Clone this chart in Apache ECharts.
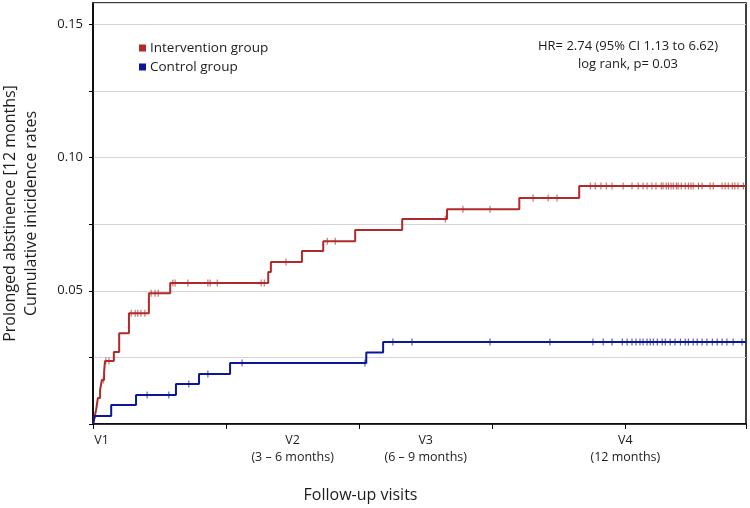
<!DOCTYPE html>
<html>
<head>
<meta charset="utf-8">
<script src="https://cdn.jsdelivr.net/npm/echarts@6/dist/echarts.min.js"></script>
<style>html,body{margin:0;padding:0;background:#fff}#c{width:750px;height:508px}</style>
</head>
<body>
<div id="c"></div>
<script>
// Step times (months) and cumulative incidence after each step
const interventionTimes = [0, 0.045, 0.07, 0.09, 0.11, 0.16, 0.20, 0.25, 0.27, 0.47, 0.59, 0.81, 1.26, 1.74, 3.95, 4.01, 4.71, 5.19, 5.91, 6.97, 7.98, 9.61, 10.96, 14.72];
const interventionRates = [0, 0.0034, 0.0053, 0.0075, 0.0098, 0.0128, 0.0165, 0.0195, 0.0236, 0.027, 0.0341, 0.0416, 0.0491, 0.0529, 0.057, 0.0608, 0.0649, 0.0686, 0.0728, 0.0769, 0.0806, 0.0848, 0.0893, 0.0893];
const controlTimes = [0, 0.04, 0.41, 0.97, 1.87, 2.39, 3.09, 6.16, 6.54, 14.72];
const controlRates = [0, 0.003, 0.0071, 0.0109, 0.015, 0.0188, 0.0229, 0.0268, 0.0308, 0.0308];
// Censoring times (months)
const interventionCensored = [0.23, 0.29, 0.36, 0.86, 0.95, 1.01, 1.08, 1.17, 1.31, 1.40, 1.47, 1.80, 1.85, 2.14, 2.59, 2.64, 2.80, 3.79, 3.86, 4.35, 5.28, 5.46, 7.94, 8.34, 8.95, 9.92, 10.26, 10.46,
  11.21, 11.32, 11.45, 11.57, 11.70, 11.95, 12.15, 12.29, 12.40, 12.49, 12.60, 12.69, 12.81, 12.85, 12.92, 12.97, 13.03, 13.08, 13.15, 13.19, 13.26, 13.35, 13.42, 13.48, 13.53, 13.65, 13.73, 13.91, 13.98, 14.18, 14.25, 14.32, 14.41, 14.47, 14.54, 14.66];
const controlCensored = [1.22, 1.71, 2.16, 2.59, 3.36, 6.13, 6.76, 7.19, 8.95, 10.30,
  11.27, 11.50, 11.70, 11.93, 12.04, 12.15, 12.24, 12.33, 12.40, 12.49, 12.56, 12.63, 12.72, 12.83, 12.90, 13.01, 13.12, 13.24, 13.35, 13.42, 13.53, 13.62, 13.73, 13.84, 13.96, 14.07, 14.18, 14.29, 14.43, 14.63];
// Axis labels
const visitLabels = {0: 'V1', 4.5: 'V2\n(3 – 6 months)', 7.5: 'V3\n(6 – 9 months)', 12: 'V4\n(12 months)'};
const seriesNames = ['Intervention group', 'Control group'];
const colors = ['#b12a2a', '#0b1796'];

function levelAt(times, rates, t) {
  let v = 0;
  for (let i = 0; i < times.length; i++) { if (times[i] <= t) v = rates[i]; }
  return v;
}
const pairs = (a, b) => a.map((x, i) => [x, b[i]]);
const cens = (c, times, rates) => c.map(t => [t, levelAt(times, rates, t)]);

const FONT = 'Open Sans';
const TXT = '#1c1c1c';
const chart = echarts.init(document.getElementById('c'), null, {renderer: 'canvas'});
chart.setOption({
  animation: false,
  textStyle: {fontFamily: FONT},
  grid: {left: 93, right: 4, top: 3, bottom: 84, show: true, borderColor: '#000', borderWidth: 1.5, backgroundColor: 'transparent', outerBoundsMode: 'none', containLabel: false},
  legend: {
    data: seriesNames, orient: 'vertical', left: 134, top: 36, icon: 'rect', itemWidth: 7, itemHeight: 7, itemGap: 5,
    textStyle: {fontFamily: FONT, fontSize: 13.5, color: TXT, padding: [0, 0, 0, -1]}
  },
  xAxis: [{
    type: 'value', min: 0, max: 14.72, interval: 3,
    axisLine: {lineStyle: {color: '#000', width: 1.5}},
    axisTick: {show: true, inside: false, length: 5, lineStyle: {color: '#000'}},
    axisLabel: {show: false}, splitLine: {show: false},
    name: 'Follow-up visits', nameLocation: 'middle', nameGap: 63,
    nameTextStyle: {fontFamily: FONT, fontSize: 16, color: TXT, padding: [0, 118, 0, 0]}
  }, {
    type: 'value', min: 0, max: 14.72, interval: 1.5, position: 'bottom',
    axisLine: {show: false}, axisTick: {show: false}, splitLine: {show: false},
    axisLabel: {
      show: true, margin: 8, fontSize: 12.5, color: TXT, lineHeight: 17, showMaxLabel: false,
      formatter: v => {
        const k = Object.keys(visitLabels).find(key => Math.abs(+key - v) < 1e-6);
        if (k === undefined) return '';
        return +k === 0 ? '{p|' + visitLabels[k] + '}' : visitLabels[k];
      },
      rich: {p: {padding: [0, 0, 0, 17], fontSize: 12.5, color: TXT, fontFamily: FONT}}
    }
  }],
  yAxis: {
    type: 'value', min: 0, max: 0.158, interval: 0.025,
    axisLine: {show: true, lineStyle: {color: '#000', width: 1.5}},
    axisTick: {show: true, inside: false, length: 4, lineStyle: {color: '#000'}},
    splitLine: {show: true, lineStyle: {color: '#d2d5dd', width: 1.2}},
    axisLabel: {
      margin: 10, fontSize: 13, color: TXT, showMaxLabel: false,
      formatter: v => (v > 0 && Math.abs(v / 0.05 - Math.round(v / 0.05)) < 1e-6) ? v.toFixed(2) : ''
    },
    name: 'Prolonged abstinence [12 months]\nCumulative inicidence rates',
    nameLocation: 'middle', nameGap: 51,
    nameTextStyle: {fontFamily: FONT, fontSize: 16, color: TXT, lineHeight: 21, padding: [0, 0, 0, 0]}
  },
  graphic: [{
    type: 'text', left: 538, top: 37,
    style: {text: 'HR= 2.74 (95% CI 1.13 to 6.62)\nlog rank, p= 0.03', font: '13px "Open Sans"', fill: TXT, textAlign: 'center', lineHeight: 18, x: 0, y: 0}
  }],
  series: [
    {name: seriesNames[0], type: 'line', step: 'end', showSymbol: false, data: pairs(interventionTimes, interventionRates),
      lineStyle: {color: colors[0], width: 2}, itemStyle: {color: colors[0]}, z: 3},
    {name: seriesNames[1], type: 'line', step: 'end', showSymbol: false, data: pairs(controlTimes, controlRates),
      lineStyle: {color: colors[1], width: 2}, itemStyle: {color: colors[1]}, z: 3},
    {name: 'ic', type: 'scatter', symbol: 'rect', symbolSize: [1, 7], data: cens(interventionCensored, interventionTimes, interventionRates),
      itemStyle: {color: colors[0]}, z: 4, silent: true},
    {name: 'cc', type: 'scatter', symbol: 'rect', symbolSize: [1, 7], data: cens(controlCensored, controlTimes, controlRates),
      itemStyle: {color: colors[1]}, z: 4, silent: true}
  ]
});
</script>
</body>
</html>
